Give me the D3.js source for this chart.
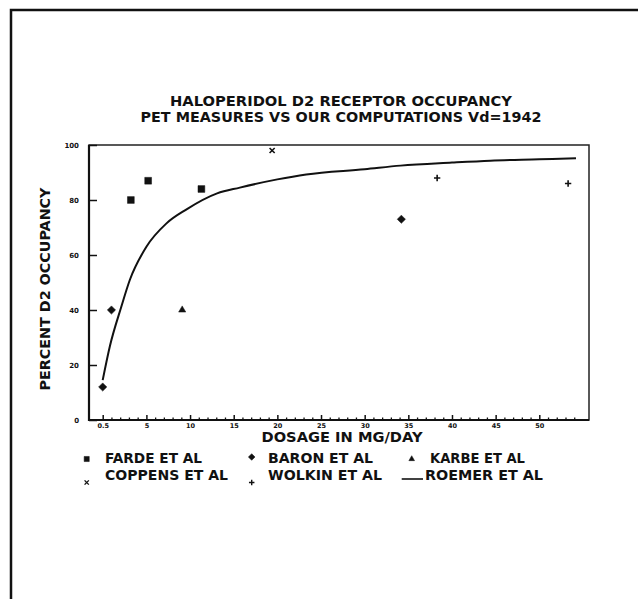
<!DOCTYPE html>
<html>
<head>
<meta charset="utf-8">
<script src="https://cdn.jsdelivr.net/npm/d3@7/dist/d3.min.js"></script>
<style>
  html, body { margin: 0; padding: 0; background: #fff; }
  text { font-family: "DejaVu Sans", sans-serif; font-weight: bold; fill: #111; }
</style>
</head>
<body>
<svg id="chart" width="638" height="599"></svg>
<script>
// values
const fardeDose = [3.4, 5.2, 11.3];
const fardeOcc = [80, 87, 84];
const baronDose = [0.5, 1.4, 34.2];
const baronOcc = [12, 40, 73];
const karbeDose = [9.1];
const karbeOcc = [40];
const coppensDose = [19.4];
const coppensOcc = [98];
const wolkinDose = [38.3, 53.3];
const wolkinOcc = [88, 86];
const roemerDose = [0.5, 1.25, 2.4, 3.3, 5, 7.3, 9.6, 13.1, 15.7, 20, 23.3, 30, 34.1, 40, 44.4, 50, 54.2];
const roemerOcc = [14.5, 27, 41, 51, 63, 71.5, 76.6, 82.4, 84.5, 87.5, 89.3, 91.2, 92.5, 93.6, 94.3, 94.8, 95.2];

const xTickValues = [0.5, 5, 10, 15, 20, 25, 30, 35, 40, 45, 50];
const xTickLabels = ["0.5", "5", "10", "15", "20", "25", "30", "35", "40", "45", "50"];
const xMinorTicks = [1.4, 2.3, 3.2, 4.1, 6, 7, 8, 9, 11, 12, 13, 14, 16, 17, 18, 19, 21, 22, 23, 24,
  26, 27, 28, 29, 31, 32, 33, 34, 36, 37, 38, 39, 41, 42, 43, 44, 46, 47, 48, 49, 51, 52, 53, 54];
const yTickValues = [0, 20, 40, 60, 80, 100];

const titleLines = ["HALOPERIDOL D2 RECEPTOR OCCUPANCY", "PET MEASURES VS OUR COMPUTATIONS Vd=1942"];
const xTitle = "DOSAGE IN MG/DAY";
const yTitle = "PERCENT D2 OCCUPANCY";

const svg = d3.select("#chart");

// plot box
const L = 89, R = 589, T = 145, B = 420;

// the original's first tick (0.5) sits a full step before 5, so the scale is piecewise
const x = d3.scaleLinear().domain([0.5, 5, 50]).range([102.7, 146.4, 539.3]);
const y = d3.scaleLinear().domain([0, 100]).range([B, T]);

// outer page border (top and left only)
svg.append("path")
  .attr("d", "M11,599 L11,10 L638,10")
  .attr("fill", "none").attr("stroke", "#111").attr("stroke-width", 2.5);

// frame
svg.append("rect")
  .attr("x", L).attr("y", T).attr("width", R - L).attr("height", B - T)
  .attr("fill", "none").attr("stroke", "#222").attr("stroke-width", 1.5);
svg.append("path")
  .attr("d", `M${L},${T} L${L},${B} L${R},${B}`)
  .attr("fill", "none").attr("stroke", "#111").attr("stroke-width", 2.2);

// axes
const xAxis = svg.append("g").attr("transform", `translate(0,${B})`)
  .call(d3.axisBottom(x).tickValues(xTickValues)
    .tickFormat((d, i) => xTickLabels[i]).tickSizeInner(-5).tickSizeOuter(0).tickPadding(3));
xAxis.select(".domain").remove();
xAxis.selectAll("line").attr("stroke", "#111").attr("stroke-width", 1.5);
xAxis.selectAll("text").attr("font-size", 6.5).attr("font-family", null);

const xMinor = svg.append("g").attr("transform", `translate(0,${B})`)
  .call(d3.axisBottom(x).tickValues(xMinorTicks).tickFormat("").tickSizeInner(-2.5).tickSizeOuter(0));
xMinor.select(".domain").remove();
xMinor.selectAll("line").attr("stroke", "#111").attr("stroke-width", 1.3);

const yAxis = svg.append("g").attr("transform", `translate(${L},0)`)
  .call(d3.axisLeft(y).tickValues(yTickValues).tickSizeInner(-8).tickSizeOuter(0).tickPadding(10));
yAxis.select(".domain").remove();
yAxis.selectAll("line").attr("stroke", "#111").attr("stroke-width", 1.5);
yAxis.selectAll("text").attr("font-size", 7).attr("font-family", null);

// titles
const titleY = [106, 122];
const titleW = [342, 401];
svg.selectAll(".title").data(titleLines).join("text")
  .attr("class", "title")
  .attr("x", 341).attr("y", (d, i) => titleY[i])
  .attr("text-anchor", "middle").attr("font-size", 14)
  .attr("textLength", (d, i) => titleW[i]).attr("lengthAdjust", "spacingAndGlyphs")
  .text(d => d);

svg.append("text")
  .attr("x", 342).attr("y", 442).attr("text-anchor", "middle")
  .attr("font-size", 14).attr("textLength", 161).attr("lengthAdjust", "spacingAndGlyphs")
  .text(xTitle);

svg.append("text")
  .attr("transform", "translate(50,289) rotate(-90)").attr("text-anchor", "middle")
  .attr("font-size", 13.5).attr("textLength", 203).attr("lengthAdjust", "spacingAndGlyphs")
  .text(yTitle);

// marker shapes
const diamond = { draw(ctx, size) { const r = Math.sqrt(size / 2); ctx.moveTo(0, -r); ctx.lineTo(r, 0); ctx.lineTo(0, r); ctx.lineTo(-r, 0); ctx.closePath(); } };
const times = { draw(ctx, size) { const r = Math.sqrt(size) / 2; ctx.moveTo(-r, -r); ctx.lineTo(r, r); ctx.moveTo(r, -r); ctx.lineTo(-r, r); } };
const plus = { draw(ctx, size) { const r = Math.sqrt(size) / 2; ctx.moveTo(-r, 0); ctx.lineTo(r, 0); ctx.moveTo(0, -r); ctx.lineTo(0, r); } };

const series = [
  { dose: fardeDose, occ: fardeOcc, type: d3.symbolSquare, size: 46, filled: true },
  { dose: baronDose, occ: baronOcc, type: diamond, size: 34, filled: true },
  { dose: karbeDose, occ: karbeOcc, type: d3.symbolTriangle, size: 22, filled: true },
  { dose: coppensDose, occ: coppensOcc, type: times, size: 26, filled: false },
  { dose: wolkinDose, occ: wolkinOcc, type: plus, size: 40, filled: false }
];

series.forEach(s => {
  svg.append("g").selectAll("path")
    .data(s.dose.map((d, i) => [d, s.occ[i]]))
    .join("path")
    .attr("transform", d => `translate(${x(d[0])},${y(d[1])})`)
    .attr("d", d3.symbol(s.type, s.size))
    .attr("fill", s.filled ? "#111" : "none")
    .attr("stroke", "#111")
    .attr("stroke-width", s.filled ? 0.5 : 1.6);
});

// Roemer curve
const line = d3.line().x(d => x(d[0])).y(d => y(d[1])).curve(d3.curveMonotoneX);
svg.append("path")
  .datum(roemerDose.map((d, i) => [d, roemerOcc[i]]))
  .attr("d", line)
  .attr("fill", "none").attr("stroke", "#111").attr("stroke-width", 2);

// legend
const legendItems = [
  { label: "FARDE ET AL", type: d3.symbolSquare, size: 26, filled: true, mx: 86.7, my: 459, tx: 105, ty: 463, w: 97 },
  { label: "BARON ET AL", type: diamond, size: 22, filled: true, mx: 251.7, my: 457, tx: 268, ty: 463, w: 105 },
  { label: "KARBE ET AL", type: d3.symbolTriangle, size: 14, filled: true, mx: 411.7, my: 459, tx: 430, ty: 463, w: 95 },
  { label: "COPPENS ET AL", type: times, size: 18, filled: false, mx: 86.7, my: 482.5, tx: 105, ty: 480, w: 123 },
  { label: "WOLKIN ET AL", type: plus, size: 30, filled: false, mx: 251.7, my: 482.5, tx: 268, ty: 480, w: 114 },
  { label: "ROEMER ET AL", type: null, tx: 425, ty: 480, w: 118 }
];

const lg = svg.append("g");
legendItems.forEach(it => {
  if (it.type) {
    lg.append("path")
      .attr("transform", `translate(${it.mx},${it.my})`)
      .attr("d", d3.symbol(it.type, it.size))
      .attr("fill", it.filled ? "#111" : "none")
      .attr("stroke", "#111").attr("stroke-width", it.filled ? 0.5 : 1.4);
  } else {
    lg.append("line")
      .attr("x1", 401.7).attr("x2", 423).attr("y1", 479).attr("y2", 479)
      .attr("stroke", "#111").attr("stroke-width", 1.6);
  }
  lg.append("text")
    .attr("x", it.tx).attr("y", it.ty).attr("font-size", 14)
    .attr("textLength", it.w).attr("lengthAdjust", "spacingAndGlyphs")
    .text(it.label);
});
</script>
</body>
</html>
